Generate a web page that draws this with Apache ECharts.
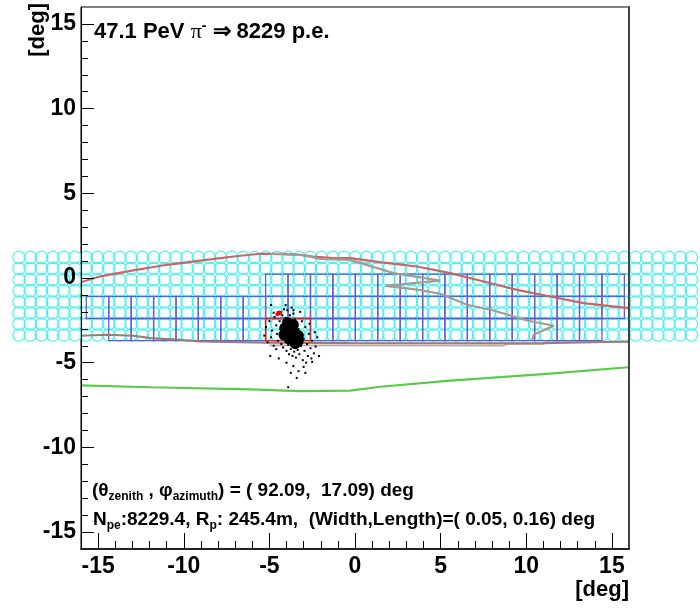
<!DOCTYPE html>
<html><head><meta charset="utf-8">
<script src="https://cdn.jsdelivr.net/npm/echarts@6/dist/echarts.min.js"></script>
<style>html,body{margin:0;padding:0;background:#fff}#c{width:700px;height:608px}</style>
</head><body><div id="c"></div>
<script>
// ---- data ----
const majorTicks = [-15, -10, -5, 0, 5, 10, 15];
const minorTicks = [-15,-14,-13,-12,-11,-10,-9,-8,-7,-6,-5,-4,-3,-2,-1,0,1,2,3,4,5,6,7,8,9,10,11,12,13,14,15];
// camera pixel (circle) grid centres
const pixelColX = [-19.62,-18.96,-18.31,-17.65,-17.00,-16.35,-15.69,-15.04,-14.38,-13.73,-13.07,-12.42,-11.76,-11.11,-10.45,-9.80,-9.15,-8.49,-7.84,-7.18,-6.53,-5.87,-5.22,-4.56,-3.91,-3.26,-2.60,-1.95,-1.29,-0.64,0.02,0.67,1.33,1.98,2.64,3.29,3.95,4.60,5.25,5.91,6.56,7.22,7.87,8.53,9.18,9.84,10.49,11.15,11.80,12.45,13.11,13.76,14.42,15.07,15.73,16.38,17.04,17.69,18.34,19.00,19.65];
const pixelRowY = [-3.37,-2.72,-2.06,-1.41,-0.75,-0.10,0.56,1.21];
// trigger cell grid edges
const cellEdgesX = [-15.69,-14.38,-13.07,-11.76,-10.45,-9.15,-7.84,-6.53,-5.22,-3.91,-2.60,-1.29,0.02,1.33,2.64,3.95,5.25,6.56,7.87,9.18,10.49,11.80,13.11,14.42,15.73];
const cellEdgesY = [-3.70,-2.39,-1.08,0.23];
const cellRowSpans = [[1,22],[0,23],[8,23]];   // [first col, last col] per row
const hotCells = [[0,8],[0,9]];                 // [row, col]
// tracks
const redTrack = [[-16.0,-0.25],[-14.87,0.1],[-12.95,0.45],[-10.98,0.78],[-9.03,1.03],[-7.09,1.27],[-5.53,1.43],[-4.19,1.43],[-3.2,1.37],[-2.44,1.27],[-1.27,1.17],[-0.27,1.17],[1.67,0.91],[3.62,0.68],[5.56,0.29],[7.51,-0.21],[9.46,-0.70],[11.4,-1.09],[13.35,-1.48],[15.96,-1.78]];
const greyTrack = [[-4.94,1.43],[-3.2,1.37],[-2.03,1.13],[-0.27,1.07],[2.25,0.29],[4.98,-0.15],[1.77,-0.46],[3.62,-0.69],[4.98,-0.93],[6.54,-1.58],[8.09,-1.92],[10.04,-2.51],[11.6,-2.82],[10.43,-3.35],[10.34,-3.69]];
const baseTrack = [[-16.0,-3.41],[-14.48,-3.35],[-12.93,-3.41],[-11.95,-3.55],[-10.2,-3.65],[-9.03,-3.75],[-5.14,-3.81],[-0.27,-3.84],[8.66,-3.86],[11.0,-3.84],[15.96,-3.75]];
const baseTrack2 = [[-5.0,-3.98],[8.66,-4.0],[8.88,-3.9],[11.0,-3.9],[11.2,-3.8],[15.96,-3.78]];
const greenTrack = [[-16.0,-6.34],[-11.95,-6.45],[-6.11,-6.57],[-3.2,-6.68],[-0.27,-6.65],[1.48,-6.42],[5.57,-6.06],[11.4,-5.65],[15.96,-5.27]];
// photo-electron hits
const coreHits = [[-3.94,-2.64],[-3.78,-2.94],[-3.94,-3.23],[-3.54,-3.23],[-3.66,-3.53],[-3.31,-3.71],[-3.49,-3.88],[-4.1,-2.95],[-3.6,-2.75],[-3.85,-3.6],[-3.3,-3.4],[-4.15,-3.35]];
const hitDots = [[-5.0,-2.55],[-4.85,-3.1],[-4.9,-3.5],[-4.7,-2.3],[-4.6,-2.8],[-4.55,-3.3],[-4.5,-3.7],[-4.45,-2.0],[-4.4,-2.55],[-4.35,-3.0],[-4.3,-3.45],[-4.3,-3.9],[-4.25,-2.2],[-4.2,-4.1],[-4.15,-1.85],[-4.1,-3.6],[-4.05,-2.35],[-4.0,-4.3],[-3.95,-1.9],[-3.9,-3.95],[-3.85,-4.5],[-3.8,-2.2],[-3.75,-4.2],[-3.7,-1.75],[-3.65,-4.6],[-3.6,-2.1],[-3.55,-4.35],[-3.5,-2.45],[-3.45,-4.7],[-3.4,-2.7],[-3.35,-4.25],[-3.3,-3.0],[-3.25,-4.5],[-3.2,-3.3],[-3.15,-4.0],[-3.1,-2.55],[-3.05,-4.85],[-3.0,-3.6],[-2.95,-4.3],[-2.9,-2.9],[-2.85,-5.0],[-2.8,-3.9],[-2.75,-4.6],[-2.7,-3.3],[-2.6,-4.15],[-2.55,-4.75],[-2.5,-3.7],[-2.4,-4.45],[-2.3,-4.05],[-2.2,-3.5],[-2.1,-4.6],[-5.2,-2.9],[-5.3,-3.4],[-4.95,-4.6],[-3.9,-6.45],[-3.6,-5.2],[-3.3,-5.5],[-2.5,-4.95],[-3.0,-5.25],[-4.6,-4.2],[-4.75,-4.0],[-4.05,-1.6],[-3.6,-1.9],[-4.9,-1.6],[-4.0,-5.0],[-3.4,-5.9],[-2.9,-5.6],[-4.45,-4.75],[-3.75,-5.6],[-5.1,-3.8],[-2.35,-3.2],[-4.75,-2.05],[-3.2,-2.0],[-2.65,-2.7]];
const redHits = [[-4.5,-2.05],[-4.42,-2.12],[-4.55,-2.15],[-4.35,-2.02]];

// ---- build ----
const circleData = [];
pixelRowY.forEach(y => pixelColX.forEach(x => circleData.push([x, y])));
const cellData = [];
cellRowSpans.forEach((s, r) => { for (let c = s[0]; c <= s[1]; c++) cellData.push([cellEdgesX[c], cellEdgesY[r], cellEdgesX[c+1], cellEdgesY[r+1]]); });
const hotData = hotCells.map(([r, c]) => [cellEdgesX[c], cellEdgesY[r], cellEdgesX[c+1], cellEdgesY[r+1]]);

function cellRender(color, lw) {
  return function (params, api) {
    const p0 = api.coord([api.value(0), api.value(3)]);
    const p1 = api.coord([api.value(2), api.value(1)]);
    return { type: 'rect', shape: { x: p0[0], y: p0[1], width: p1[0]-p0[0], height: p1[1]-p0[1] },
      style: { fill: 'none', stroke: color, lineWidth: lw } };
  };
}
const FONT = 'Liberation Sans, Arial, sans-serif';
const lbl = { fontSize: 23, fontWeight: 'bold', color: '#000', fontFamily: FONT };
function axisCommon(extra) {
  const a = Object.assign({ type: 'value', min: -16, max: 16, splitLine: { show: false }, z: 6 }, extra);
  a.axisLine = Object.assign({ onZero: false }, a.axisLine || {});
  return a;
}
const chart = echarts.init(document.getElementById('c'), null, { renderer: 'canvas' });
chart.setOption({
  animation: false,
  grid: { left: 81, top: 7, width: 548, height: 542, show: true, borderColor: '#000', borderWidth: 1, backgroundColor: 'rgba(0,0,0,0)' },
  xAxis: [
    axisCommon({ position: 'bottom', axisLine: { show: true, lineStyle: { color: '#222', width: 2 } },
      axisTick: { show: true, inside: true, length: 16, customValues: majorTicks, lineStyle: { color: '#000', width: 1 } },
      axisLabel: Object.assign({ customValues: majorTicks, margin: 6 }, lbl) }),
    axisCommon({ position: 'bottom', axisLine: { show: false },
      axisTick: { show: true, inside: true, length: 8, customValues: minorTicks, lineStyle: { color: '#000', width: 1 } },
      axisLabel: { show: false } })
  ],
  yAxis: [
    axisCommon({ position: 'left', axisLine: { show: true, lineStyle: { color: '#000', width: 1 } },
      axisTick: { show: true, inside: true, length: 13, customValues: majorTicks, lineStyle: { color: '#000', width: 1 } },
      axisLabel: Object.assign({ customValues: majorTicks, margin: 5 }, lbl) }),
    axisCommon({ position: 'left', axisLine: { show: false },
      axisTick: { show: true, inside: true, length: 7, customValues: minorTicks, lineStyle: { color: '#000', width: 1 } },
      axisLabel: { show: false } }),
    axisCommon({ position: 'right', axisLine: { show: true, lineStyle: { color: '#444', width: 2 } },
      axisTick: { show: false }, axisLabel: { show: false } })
  ],
  series: [
    { type: 'scatter', data: circleData, symbol: 'circle', symbolSize: 12.4, clip: false, silent: true, z: 1,
      itemStyle: { color: 'rgba(0,0,0,0)', borderColor: '#3cf2f2', borderWidth: 1.1, opacity: 1 } },
    { type: 'custom', data: cellData, renderItem: cellRender('#5c5ce8', 1.3), encode: { x: [0, 2], y: [1, 3] }, silent: true, z: 2 },
    { type: 'custom', data: hotData, renderItem: cellRender('#ee1c1c', 1.3), encode: { x: [0, 2], y: [1, 3] }, silent: true, z: 3 },
    { type: 'line', data: redTrack, symbol: 'none', lineStyle: { color: '#cc6464', width: 2.2 }, z: 4 },
    { type: 'line', data: greyTrack, symbol: 'none', lineStyle: { color: '#a49c94', width: 2.2 }, z: 4 },
    { type: 'line', data: baseTrack2, symbol: 'none', lineStyle: { color: '#b8aaa4', width: 1.6 }, z: 4 },
    { type: 'line', data: baseTrack, symbol: 'none', lineStyle: { color: '#9c7c70', width: 2.2 }, z: 4 },
    { type: 'line', data: greenTrack, symbol: 'none', lineStyle: { color: '#58cc48', width: 2.2 }, z: 4 },
    { type: 'scatter', data: coreHits, symbol: 'circle', symbolSize: 11, itemStyle: { color: '#000', opacity: 1 }, z: 5 },
    { type: 'scatter', data: hitDots, symbol: 'rect', symbolSize: 2, itemStyle: { color: '#000', opacity: 1 }, z: 5 },
    { type: 'scatter', data: redHits, symbol: 'rect', symbolSize: 3, itemStyle: { color: '#e00000', opacity: 1 }, z: 5 }
  ],
  graphic: [
    { type: 'text', left: 94, top: 19, z: 100, style: {
      text: '{a|47.1 PeV }{pi|π}{sup|-}{a| ⇒ 8229 p.e.}',
      rich: {
        a: { fontSize: 22, fontWeight: 'bold', fontFamily: FONT, lineHeight: 26, fill: '#000' },
        pi: { fontSize: 22, fontFamily: 'Liberation Serif, serif', lineHeight: 26, fill: '#000' },
        sup: { fontSize: 14, fontWeight: 'bold', fontFamily: FONT, lineHeight: 14, verticalAlign: 'top', fill: '#000' }
      } } },
    { type: 'text', left: 92, top: 481, z: 100, style: {
      text: '{a|(θ}{sub|zenith}{a| , φ}{sub|azimuth}{a|) = ( 92.09,  17.09) deg}',
      rich: {
        a: { fontSize: 19, fontWeight: 'bold', fontFamily: FONT, lineHeight: 24, fill: '#000' },
        sub: { fontSize: 12, fontWeight: 'bold', fontFamily: FONT, lineHeight: 13, verticalAlign: 'bottom', fill: '#000' }
      } } },
    { type: 'text', left: 93, top: 510, z: 100, style: {
      text: '{a|N}{sub|pe}{a|:8229.4, R}{sub|p}{a|: 245.4m,  (Width,Length)=( 0.05, 0.16) deg}',
      rich: {
        a: { fontSize: 19, fontWeight: 'bold', fontFamily: FONT, lineHeight: 24, fill: '#000' },
        sub: { fontSize: 12, fontWeight: 'bold', fontFamily: FONT, lineHeight: 13, verticalAlign: 'bottom', fill: '#000' }
      } } },
    { type: 'text', x: 27, y: 3, rotation: Math.PI / 2, z: 100, style: {
      text: '[deg]', fontSize: 22, fontWeight: 'bold', fontFamily: FONT, fill: '#000', align: 'right', verticalAlign: 'top' } },
    { type: 'text', right: 71, top: 579, z: 100, style: {
      text: '[deg]', fontSize: 22, fontWeight: 'bold', fontFamily: FONT, fill: '#000' } }
  ]
});
</script></body></html>
